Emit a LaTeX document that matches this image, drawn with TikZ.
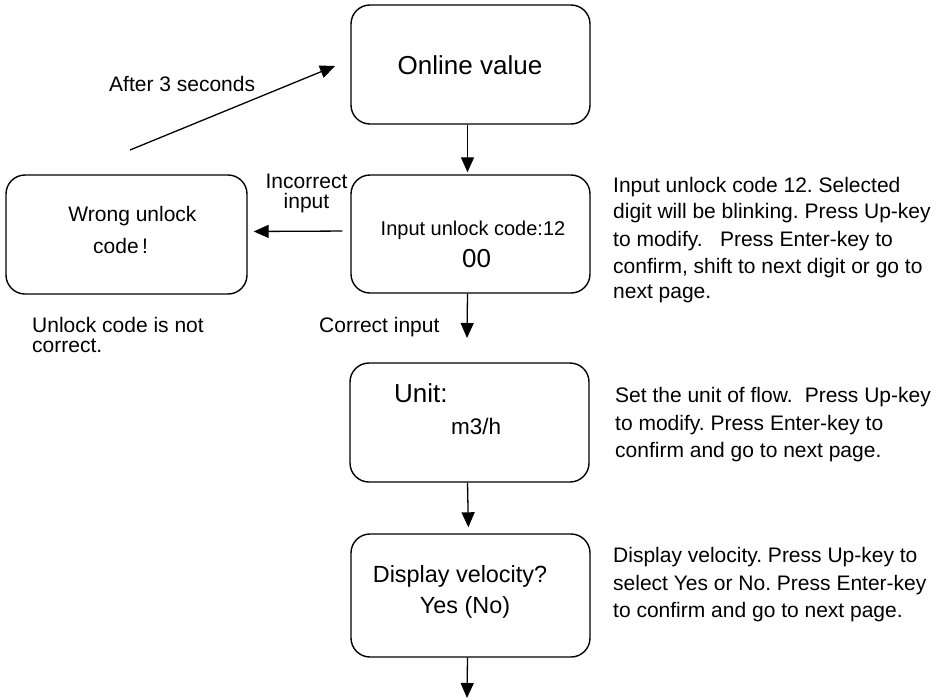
\documentclass[tikz,border=0pt]{standalone}
\usepackage{fontspec}
\setmainfont{Liberation Sans}
\usetikzlibrary{arrows.meta}
\frenchspacing
\begin{document}
\begin{tikzpicture}[x=1pt,y=-1pt,
  box/.style={draw, line width=1.4pt, rounded corners=19pt, minimum width=239pt, minimum height=119pt, inner sep=0pt},
  arr/.style={-{Triangle[length=15pt,width=13pt]}, line width=1.3pt},
  fs/.style={font=\fontsize{#1}{#1}\selectfont, inner sep=0pt},
  txt/.style={fs=#1, anchor=base},
  txtl/.style={fs=#1, anchor=base west}]
\useasboundingbox (0,0) rectangle (945,699);

% boxes
\node[box] (online) at (470.5,64.5) {};
\node[box, minimum height=118pt] (code) at (470.5,234) {};
\node[box, minimum width=241pt] (wrong) at (126.5,234.5) {};
\node[box] (unit) at (469.5,422.5) {};
\node[box, minimum height=123pt] (velo) at (470.5,595.5) {};

% box texts
\node[txt=26] (t1) at (470,74) {Online value};
\node[txt=20] (t2a) at (473,235) {Input unlock code:12};
\node[txt=26] (t2b) at (476.5,267) {00};
\node[txtl=26] (t3a) at (394,402) {Unit:};
\node[txtl=22.5] (t3b) at (451,434) {m3/h};
\node[txt=23.4] (t4a) at (460,582) {Display velocity?};
\node[txt=23.4] (t4b) at (465,613) {Yes (No)};
\node[txt=21] (t5a) at (132.5,221) {Wrong unlock};
\node[txtl=21] (t5b) at (93,253) {code\,!};

% connector labels
\node[txtl=21] (l1) at (109,91) {After 3 seconds};
\node[txt=21] (l2a) at (306.5,188) {Incorrect};
\node[txt=21] (l2b) at (306.5,208) {input};
\node[txtl=21] (l3) at (319,332) {Correct input};
\node[txtl=21] (l4a) at (32,332) {Unlock code is not};
\node[txtl=21] (l4b) at (32,352) {correct.};

% notes
\node[txtl=21] (n1a) at (613,192) {Input unlock code 12. Selected};
\node[txtl=21] (n1b) at (613,218) {digit will be blinking. Press Up-key};
\node[txtl=21] (n1c) at (613,246) {to modify.\hspace{0.55em} Press Enter-key to};
\node[txtl=21] (n1d) at (613,273) {confirm, shift to next digit or go to};
\node[txtl=21] (n1e) at (613,298) {next page.};
\node[txtl=21] (n2a) at (615,402) {Set the unit of flow.\hspace{0.3em} Press Up-key};
\node[txtl=21] (n2b) at (615,430) {to modify. Press Enter-key to};
\node[txtl=21] (n2c) at (615,457) {confirm and go to next page.};
\node[txtl=21] (n3a) at (613,562) {Display velocity. Press Up-key to};
\node[txtl=21] (n3b) at (613,590) {select Yes or No. Press Enter-key};
\node[txtl=21] (n3c) at (613,617) {to confirm and go to next page.};

% connectors
\coordinate (a0) at (130,150);
\coordinate (a1) at (335,66);
\draw[arr] (a0) -- (a1);
\draw[arr, shorten >=2pt] ([xshift=-3pt]online.south) -- ([xshift=-3pt]code.north);
\draw[arr, shorten <=8pt, shorten >=6pt] ([yshift=3pt]code.west) -- ([yshift=3pt]wrong.east);
\coordinate (c1) at (467,338);
\draw[arr] ([xshift=-3pt]code.south) -- (c1);
\draw[arr, shorten >=6pt] ([xshift=-2pt]unit.south) -- ([xshift=-2pt]velo.north);
\coordinate (c2) at (467,698);
\draw[arr] ([xshift=-3pt]velo.south) -- (c2);
\end{tikzpicture}
\end{document}
